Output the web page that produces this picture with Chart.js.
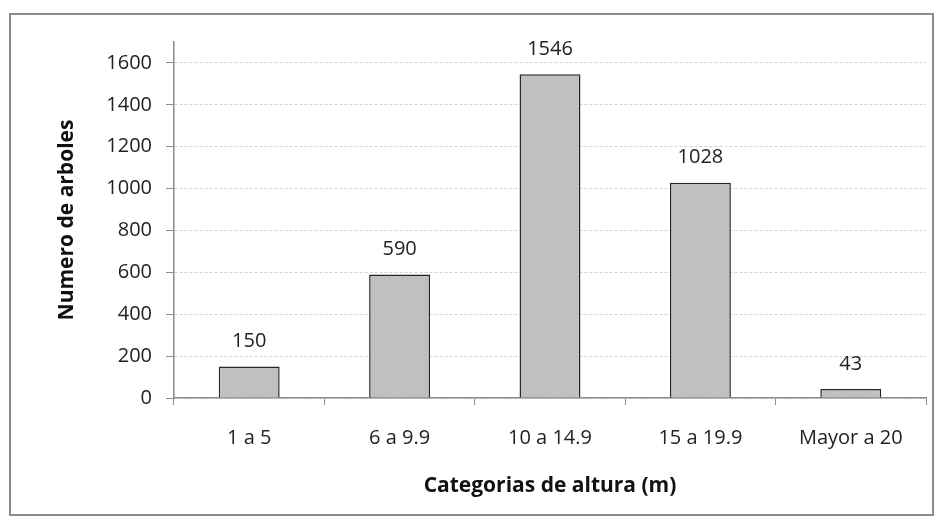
<!DOCTYPE html>
<html>
<head>
<meta charset="utf-8">
<script src="https://cdn.jsdelivr.net/npm/chart.js@4"></script>
<style>
    body { margin: 0; background: #fff; }
    #frame { position: absolute; left: 9px; top: 13px; width: 921px; height: 499px; border: 2px solid #8c8c8c; }
    #wrap { position: absolute; left: 0; top: 0; width: 940px; height: 520px; }
</style>
</head>
<body>
<div id="frame"></div>
<div id="wrap"><canvas id="chart" width="940" height="520"></canvas></div>
<script>
// --- data ---
const categorias = ["1 a 5", "6 a 9.9", "10 a 14.9", "15 a 19.9", "Mayor a 20"];
const arboles = [150, 590, 1546, 1028, 43];
const yTicks = [0, 200, 400, 600, 800, 1000, 1200, 1400, 1600];

const FONT = "'Open Sans', sans-serif";

// draws the value above each bar
const barLabels = {
    id: 'barLabels',
    afterDatasetsDraw(chart) {
        const ctx = chart.ctx;
        const meta = chart.getDatasetMeta(0);
        ctx.save();
        ctx.font = `20px ${FONT}`;
        ctx.fillStyle = '#222';
        ctx.textAlign = 'center';
        ctx.textBaseline = 'middle';
        meta.data.forEach((bar, i) => {
            ctx.fillText(String(arboles[i]), bar.x, bar.y - 25);
        });
        ctx.restore();
    }
};

new Chart(document.getElementById('chart'), {
    type: 'bar',
    data: {
        labels: categorias,
        datasets: [{
            data: arboles,
            backgroundColor: '#c0c0c0',
            borderColor: '#262626',
            borderWidth: 1.5,
            categoryPercentage: 1,
            barPercentage: 0.405
        }]
    },
    options: {
        responsive: false,
        animation: false,
        devicePixelRatio: 1,
        layout: { padding: { left: 50, top: 42, right: 14, bottom: 10 } },
        plugins: { legend: { display: false }, tooltip: { enabled: false } },
        scales: {
            x: {
                afterFit: scale => { scale.height = 112; },
                grid: { offset: true, drawOnChartArea: false, drawTicks: true, tickLength: 7, tickColor: '#8c8c8c' },
                border: { color: '#8c8c8c', width: 1.5 },
                ticks: { color: '#222', font: { family: FONT, size: 20 }, padding: 21 },
                title: { display: true, text: 'Categorias de altura (m)', color: '#111', font: { family: FONT, size: 21, weight: 'bold' }, padding: { top: 0, bottom: 11 } }
            },
            y: {
                min: 0,
                max: 1700,
                afterFit: scale => { scale.width = 124; },
                afterBuildTicks: scale => { scale.ticks = yTicks.map(v => ({ value: v })); },
                grid: { color: '#d4d4d4', tickColor: '#8c8c8c', tickLength: 8, tickBorderDash: [] },
                border: { color: '#8c8c8c', width: 1.5, dash: [3, 2] },
                ticks: { color: '#222', font: { family: FONT, size: 20 }, padding: 14, callback: v => String(v) },
                title: { display: true, text: 'Numero de arboles', color: '#111', font: { family: FONT, size: 21, weight: 'bold' }, padding: { top: 4, bottom: 0 } }
            }
        }
    },
    plugins: [barLabels]
});
</script>
</body>
</html>
